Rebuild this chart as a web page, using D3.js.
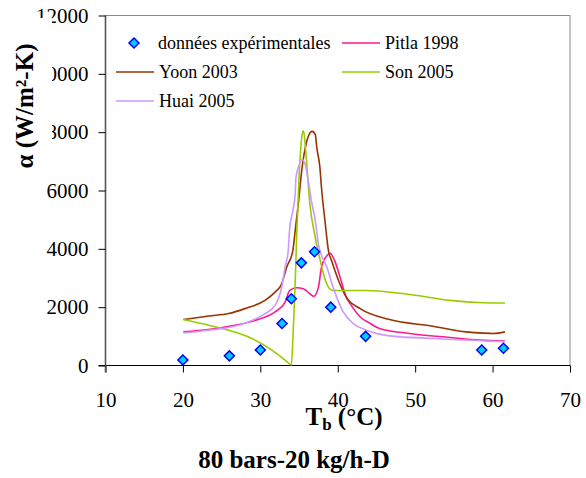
<!DOCTYPE html>
<html>
<head>
<meta charset="utf-8">
<script src="https://cdn.jsdelivr.net/npm/d3@7"></script>
<style>
  body { margin: 0; background: #fff; }
  text { font-family: "Liberation Serif", "Times New Roman", serif; }
</style>
</head>
<body>
<script>
const width = 586;
const height = 478;

// experimental points (Tb, alpha)
const expT = [20, 26, 30, 32.8, 34, 35.3, 37, 39.1, 43.6, 58.6, 61.4];
const expA = [190, 330, 530, 1440, 2290, 3520, 3900, 2000, 1000, 530, 590];

// correlations, [Tb, alpha]
const pitla = [[20.06,1153],[23.3,1233],[26.7,1380],[29.7,1574],[31.9,1835],[33.2,2176],[33.8,2574],[34.7,2665],[35.55,2630],[36.4,2460],[36.9,2370],[37.5,2687],[37.9,3368],[38.6,3767],[39.0,3846],[39.6,3597],[40.3,3028],[41.1,2346],[41.6,2120],[42.9,1664],[44.2,1439],[45.4,1268],[49.3,1098],[54.5,961],[58.4,869],[61.6,835]];
const yoon = [[20.06,1575],[23.3,1698],[25.9,1780],[28.0,1950],[30.6,2233],[31.9,2516],[32.76,2800],[33.4,3368],[34.2,3937],[34.5,4619],[34.9,5530],[35.34,6665],[35.8,7460],[36.2,7858],[36.7,8028],[37.1,7916],[37.3,7460],[37.7,6778],[37.9,6096],[38.35,4960],[38.8,3937],[39.2,3597],[40.1,2915],[41.1,2346],[42.9,1950],[46.7,1575],[52.3,1347],[56.6,1153],[58.8,1110],[60.1,1098],[61.6,1153]];
const son = [[20.06,1575],[23.3,1380],[25.9,1210],[28.9,927],[31.5,528],[33.2,187],[34.0,20],[34.26,1250],[34.5,2800],[34.7,4500],[35.0,6437],[35.34,7800],[35.5,8050],[35.65,7950],[35.9,7234],[36.4,5530],[37.05,4450],[37.7,3650],[38.3,3000],[38.9,2650],[39.4,2574],[43.7,2574],[49.3,2437],[54.5,2233],[58.7,2154],[61.6,2141]];
const huai = [[20.06,1118],[23.3,1210],[25.9,1302],[28.45,1493],[30.6,1780],[31.9,2063],[32.76,2687],[33.2,3368],[33.6,3937],[33.8,4732],[34.2,5301],[34.5,5871],[34.6,6437],[34.9,6778],[35.4,7064],[35.8,6892],[36.2,6324],[36.6,5642],[37.1,4960],[37.5,4165],[37.7,3937],[38.6,3368],[39.4,2687],[40.7,1835],[42.0,1439],[43.7,1210],[46.7,1017],[52.3,927],[61.6,820]];

const xTicks = [10, 20, 30, 40, 50, 60, 70];
const yTicks = [0, 2000, 4000, 6000, 8000, 10000, 12000];

const seriesNames = ["Pitla 1998", "Yoon 2003", "Son 2005", "Huai 2005"];
const seriesData = [pitla, yoon, son, huai];
const seriesColors = ["#ff1a8c", "#993300", "#99cc00", "#cc99ff"];

let margin = { top: 15.5, right: 16, bottom: 112.5, left: 105.5 };

let svg = d3.select("body").append("svg")
  .attr("width", width)
  .attr("height", height);

let x = d3.scaleLinear().domain([10, 70]).range([margin.left, width - margin.right]);
let y = d3.scaleLinear().domain([0, 12000]).range([height - margin.bottom, margin.top]);

// frame (gray top/right)
svg.append("rect")
  .attr("x", x(10)).attr("y", y(12000))
  .attr("width", x(70) - x(10)).attr("height", y(0) - y(12000))
  .attr("fill", "none").attr("stroke", "#8c8c8c").attr("stroke-width", 1);

// x axis
let xAxis = svg.append("g")
  .attr("transform", `translate(0, ${y(0)})`)
  .call(d3.axisBottom(x).tickValues(xTicks).tickSize(7).tickPadding(20).tickFormat(d3.format("d")));
xAxis.select(".domain").attr("stroke", "#000").attr("d", `M${x(10) - 7},0H${x(70)}`);
xAxis.selectAll("text").attr("font-size", 21).attr("fill", "#000")
  .style("font-family", "Liberation Serif");

// y axis
let yAxis = svg.append("g")
  .attr("transform", `translate(${x(10)}, 0)`)
  .call(d3.axisLeft(y).tickValues(yTicks).tickSize(7).tickPadding(10).tickFormat(d3.format("d")));
yAxis.select(".domain").attr("stroke", "#555").attr("stroke-width", 1.6)
  .attr("d", `M0,${y(12000)}V${y(0) + 7}`);
yAxis.selectAll("text").attr("font-size", 21).attr("fill", "#000")
  .style("font-family", "Liberation Serif");

// lines
let line = d3.line()
  .x((d) => x(d[0]))
  .y((d) => y(d[1]))
  .curve(d3.curveMonotoneX);

svg.selectAll("path.serie")
  .data(seriesData)
  .join("path")
  .attr("class", "serie")
  .attr("d", line)
  .attr("fill", "none")
  .attr("stroke", (d, i) => seriesColors[i])
  .attr("stroke-width", 1.6);

// experimental diamonds
let diamond = d3.symbol().type(d3.symbolSquare).size(50);
svg.selectAll("path.exp")
  .data(expT.map((t, i) => [t, expA[i]]))
  .join("path")
  .attr("class", "exp")
  .attr("d", diamond)
  .attr("transform", (d) => `translate(${x(d[0])}, ${y(d[1])}) rotate(45)`)
  .attr("fill", "#00ccff")
  .attr("stroke", "#0000ff")
  .attr("stroke-width", 1.5);

// legend
let legend = svg.append("g").attr("font-size", 18);
let legendPos = [
  { lx: 342, ly: 43 }, // Pitla
  { lx: 116, ly: 72 }, // Yoon
  { lx: 342, ly: 72 }, // Son
  { lx: 116, ly: 101 } // Huai
];
legend.append("path")
  .attr("d", diamond)
  .attr("transform", "translate(134, 43) rotate(45)")
  .attr("fill", "#00ccff").attr("stroke", "#0000ff").attr("stroke-width", 1.5);
legend.append("text").attr("x", 158).attr("y", 43).attr("dy", "0.35em")
  .text("données expérimentales");
seriesNames.forEach((name, i) => {
  let p = legendPos[i];
  legend.append("line")
    .attr("x1", p.lx).attr("x2", p.lx + 38)
    .attr("y1", p.ly).attr("y2", p.ly)
    .attr("stroke", seriesColors[i]).attr("stroke-width", 1.6);
  legend.append("text").attr("x", p.lx + 43).attr("y", p.ly).attr("dy", "0.35em").text(name);
});

// y title with white box behind it (it hides part of the tick labels)
let yTitleG = svg.append("g").attr("transform", "translate(33, 106) rotate(-90)");
yTitleG.append("rect")
  .attr("x", -74).attr("y", -28).attr("width", 162).attr("height", 47)
  .attr("fill", "#fff");
yTitleG.append("text")
  .attr("text-anchor", "middle")
  .attr("font-size", 25).attr("font-weight", "bold")
  .text("α (W/m²-K)");

// x title
let xTitle = svg.append("text")
  .attr("x", 344).attr("y", 425)
  .attr("text-anchor", "middle")
  .attr("font-size", 25).attr("font-weight", "bold");
xTitle.append("tspan").text("T");
xTitle.append("tspan").attr("font-size", 17).attr("dy", 5).text("b");
xTitle.append("tspan").attr("dy", -5).text(" (°C)");

// bottom caption
svg.append("text")
  .attr("x", 294).attr("y", 468)
  .attr("text-anchor", "middle")
  .attr("font-size", 25).attr("font-weight", "bold")
  .text("80 bars-20 kg/h-D");
</script>
</body>
</html>
